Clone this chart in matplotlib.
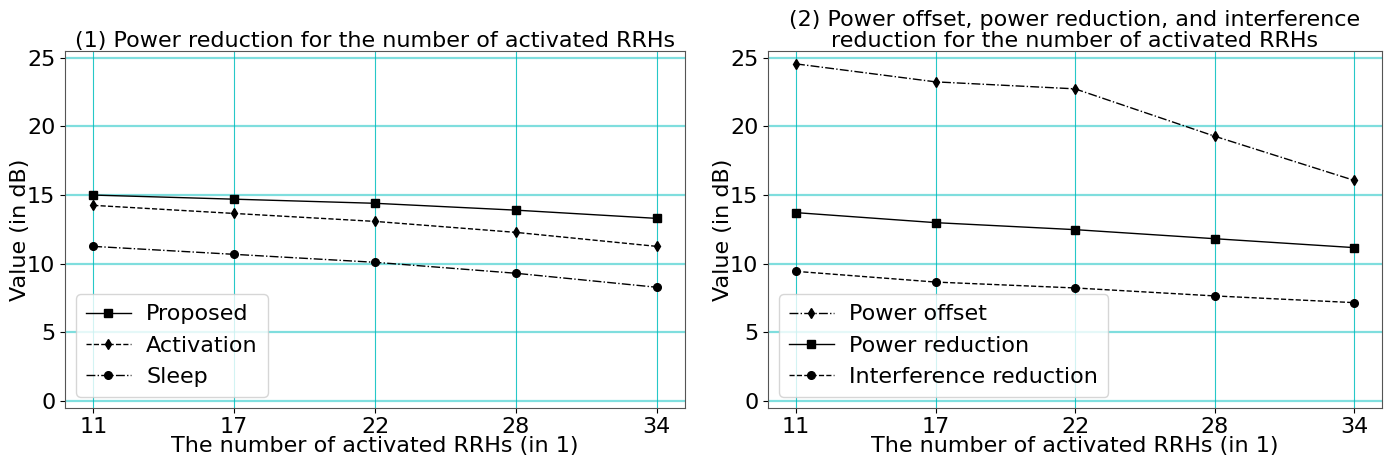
import matplotlib
matplotlib.use("Agg")
import matplotlib.pyplot as plt

x_labels = ["11", "17", "22", "28", "34"]

proposed = [15.0, 14.7, 14.4, 13.9, 13.3]
activation = [14.25, 13.66, 13.08, 12.28, 11.26]
sleep = [11.26, 10.68, 10.1, 9.3, 8.28]

power_offset = [24.56, 23.25, 22.74, 19.29, 16.07]
power_reduction = [13.72, 12.99, 12.48, 11.82, 11.17]
interference_reduction = [9.44, 8.66, 8.23, 7.65, 7.16]

title1 = "(1) Power reduction for the number of activated RRHs"
title2 = "(2) Power offset, power reduction, and interference\nreduction for the number of activated RRHs"
xlabel = "The number of activated RRHs (in 1)"
ylabel = "Value (in dB)"

fig = plt.figure(figsize=(13.96, 4.66), dpi=100)
ax1 = fig.add_axes([0.0466, 0.125, 0.4441, 0.7656])
ax2 = fig.add_axes([0.5502, 0.125, 0.4398, 0.7656])

xs = list(range(len(x_labels)))

ax1.plot(xs, proposed, "k-", marker="s", ms=5.5, lw=1, label="Proposed")
ax1.plot(xs, activation, "k--", marker="d", ms=5.5, lw=1, label="Activation")
ax1.plot(xs, sleep, "k-.", marker="o", ms=5.5, lw=1, label="Sleep")

ax2.plot(xs, power_offset, "k-.", marker="d", ms=5.5, lw=1, label="Power offset")
ax2.plot(xs, power_reduction, "k-", marker="s", ms=5.5, lw=1, label="Power reduction")
ax2.plot(xs, interference_reduction, "k--", marker="o", ms=5.5, lw=1, label="Interference reduction")

for ax, title in ((ax1, title1), (ax2, title2)):
    ax.set_xticks(xs)
    ax.set_xticklabels(x_labels)
    ax.set_yticks([0, 5, 10, 15, 20, 25])
    ax.set_ylim(-0.5, 25.5)
    ax.set_xlim(-0.2, 4.2)
    ax.tick_params(labelsize=16)
    ax.xaxis.grid(True, color="c", lw=0.8, alpha=0.85)
    ax.yaxis.grid(True, color="c", lw=1.6, alpha=0.5)
    ax.set_axisbelow(True)
    ax.set_xlabel(xlabel, fontsize=16, labelpad=-1)
    ax.set_ylabel(ylabel, fontsize=16, labelpad=-2)
    ax.set_title(title, fontsize=16, pad=3, linespacing=1.05)
    for s in ax.spines.values():
        s.set_color("#555555")
    ax.legend(loc="lower left", fontsize=16, handlelength=2.0, borderpad=0.45,
              labelspacing=0.5, handletextpad=0.7)

fig.savefig("out.png", dpi=100)
